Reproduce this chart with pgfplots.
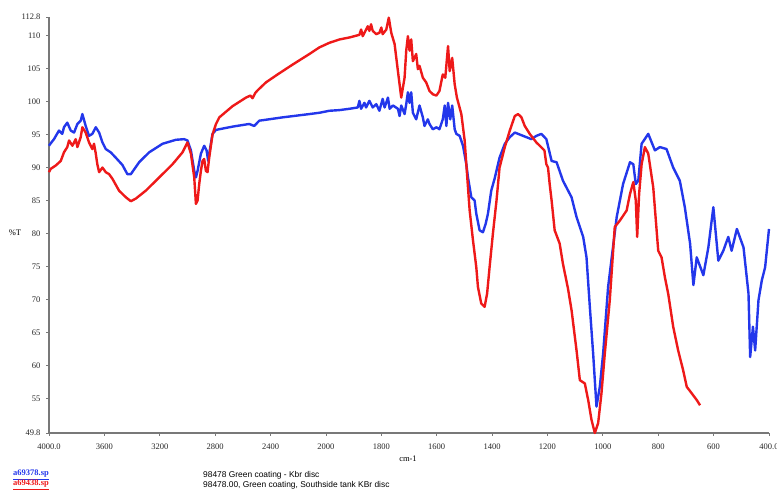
\documentclass[border=0pt]{standalone}
\usepackage{fontspec}
\setmainfont{Liberation Serif}
\newfontfamily\sansf{Liberation Sans}
\usepackage{pgfplots}
\usepackage{pgfplotstable}
\pgfplotsset{compat=1.18}
\definecolor{irblue}{RGB}{35,55,235}
\definecolor{irred}{RGB}{238,25,25}
\definecolor{axgray}{RGB}{120,120,120}

\pgfplotstableread{
wn v
4000 93.3
3990 93.6
3964 94.3
3928 95.6
3904 95.1
3892 96.1
3868 96.8
3843 95.6
3819 95.3
3795 96.6
3771 97.1
3759 98.1
3735 96.3
3711 94.8
3687 95.1
3662 96.1
3638 95.3
3614 93.8
3590 92.8
3554 92.3
3518 91.5
3470 90.4
3434 89.0
3409 89.0
3349 90.8
3277 92.3
3180 93.6
3084 94.2
3024 94.3
3000 94.1
2975 92.6
2951 89.5
2939 88.5
2927 89.5
2903 92.1
2879 93.3
2862 92.6
2850 91.0
2843 92.1
2819 95.1
2794 95.7
2674 96.2
2554 96.6
2518 96.3
2481 97.1
2313 97.6
2119 98.1
2047 98.3
1987 98.6
1951 98.7
1915 98.9
1885 99.1
1879 100.1
1873 98.9
1861 99.8
1855 99.1
1843 100.1
1831 99.1
1818 99.6
1807 98.6
1795 100.4
1788 99.1
1776 100.6
1770 98.9
1758 99.4
1740 98.9
1734 97.8
1728 99.4
1716 98.1
1710 99.6
1704 101.4
1698 99.8
1692 101.4
1686 98.3
1674 97.3
1662 99.4
1650 97.6
1644 96.3
1632 97.3
1626 96.6
1614 95.8
1601 96.1
1590 95.8
1578 97.3
1571 99.4
1565 96.3
1559 99.8
1551 97.3
1544 99.4
1535 95.8
1529 95.1
1517 94.8
1505 93.3
1493 90.5
1487 88.5
1475 85.5
1463 85.0
1457 83.0
1445 80.5
1433 80.2
1423 81.5
1415 83.0
1403 86.5
1391 88.3
1373 91.5
1354 93.6
1336 94.6
1318 95.3
1288 94.8
1258 94.3
1240 94.8
1222 95.1
1204 94.3
1185 91.0
1167 90.8
1144 88.0
1113 85.5
1095 82.5
1071 79.5
1059 76.4
1047 68.9
1035 61.8
1023 53.8
1011 56.8
999 61.8
981 71.9
950 82.5
927 87.5
902 90.8
890 90.5
881 87.5
872 88.0
860 93.6
836 95.1
812 92.6
794 93.1
770 92.8
746 90.0
722 88.0
704 84.0
685 78.5
673 72.2
661 76.4
637 73.7
619 77.9
601 84.0
583 75.9
565 77.4
547 79.5
535 77.4
516 80.7
492 77.9
474 70.9
468 61.3
458 65.9
450 62.3
438 69.9
426 72.9
414 74.9
400 80.7
}\bluedata

\pgfplotstableread{
wn v
4000 89.3
3988 89.8
3952 90.3
3915 91.0
3892 92.3
3868 93.1
3855 94.1
3831 93.3
3807 94.3
3795 93.1
3771 94.6
3759 96.1
3735 95.3
3711 93.8
3687 92.8
3675 93.6
3662 92.1
3651 90.5
3638 89.3
3614 90.0
3590 89.3
3566 89.0
3542 88.3
3494 86.5
3445 85.5
3409 84.9
3373 85.3
3301 86.5
3204 88.5
3108 90.5
3036 92.3
3000 93.8
2975 92.1
2951 88.5
2939 84.5
2927 85.0
2915 87.5
2903 89.5
2891 91.0
2879 91.3
2867 89.5
2855 89.3
2843 91.5
2819 95.0
2794 96.6
2770 97.6
2674 99.3
2577 100.6
2545 100.9
2530 100.5
2510 101.3
2493 101.7
2433 102.9
2349 104.1
2240 105.6
2119 107.2
2047 108.2
1987 108.9
1951 109.4
1915 109.7
1879 110.1
1873 110.9
1867 109.9
1849 111.4
1843 110.7
1837 111.7
1831 110.7
1818 110.2
1807 110.4
1800 111.2
1795 110.2
1782 110.9
1773 112.7
1764 110.4
1752 108.7
1740 104.6
1728 100.6
1716 103.6
1710 107.7
1704 109.9
1698 107.7
1692 109.4
1686 106.1
1674 107.2
1668 104.9
1662 105.4
1650 103.6
1638 102.9
1626 101.6
1614 101.1
1601 100.9
1590 101.6
1578 104.1
1569 103.6
1559 108.4
1553 104.6
1544 106.6
1535 102.6
1527 100.6
1511 98.1
1499 94.1
1493 90.5
1487 87.0
1481 83.5
1469 79.0
1457 74.9
1451 71.9
1439 69.4
1427 68.9
1418 70.9
1409 74.9
1397 80.0
1384 85.0
1373 90.0
1354 93.1
1336 95.6
1318 97.8
1306 98.1
1294 97.6
1282 96.3
1264 95.1
1240 93.8
1211 92.6
1204 90.5
1198 90.0
1192 87.5
1185 85.0
1174 80.5
1156 78.5
1144 75.4
1126 71.7
1113 68.4
1095 62.3
1083 57.8
1065 57.3
1053 54.8
1041 51.8
1029 49.8
1017 51.3
1005 55.8
993 61.8
975 69.9
957 81.0
938 82.0
914 83.5
902 86.0
890 87.8
881 85.0
876 79.5
869 86.0
860 90.5
848 93.1
836 92.1
818 87.0
800 77.4
788 76.4
776 73.4
764 70.9
746 65.9
728 62.3
710 59.3
697 56.8
679 55.8
661 54.8
649 54.0
}\reddata

\begin{document}
\begin{tikzpicture}[x=1pt,y=1pt]
\path[use as bounding box] (0,0) rectangle (777,492);
\begin{axis}[
  at={(49pt,59pt)}, anchor=south west,
  scale only axis, width=720pt, height=416pt,
  xmin=0, xmax=13, ymin=49.8, ymax=112.8,
  axis lines*=left,
  axis line style={axgray, line width=1.2pt},
  clip=false,
  xtick={0,1,2,3,4,5,6,7,8,9,10,11,12,13},
  xticklabels={4000.0,3600,3200,2800,2400,2000,1800,1600,1400,1200,1000,800,600,400.0},
  ytick={49.8,55,60,65,70,75,80,85,90,95,100,105,110,112.8},
  yticklabels={49.8,55,60,65,70,75,80,85,90,95,100,105,110,112.8},
  tick align=outside, major tick length=3pt,
  tick style={axgray, line width=0.8pt},
  tick label style={font=\fontsize{8.5}{9}\selectfont, text=black!85},
  xticklabel style={yshift=-4pt},
  yticklabel style={xshift=-2pt},
]
\addplot[irblue, line width=2.4pt, line join=round] table[x expr={ifthenelse(\thisrow{wn}>=2000,(4000-\thisrow{wn})/400,5+(2000-\thisrow{wn})/200)}, y=v] {\bluedata};
\addplot[irred, line width=2.4pt, line join=round] table[x expr={ifthenelse(\thisrow{wn}>=2000,(4000-\thisrow{wn})/400,5+(2000-\thisrow{wn})/200)}, y=v] {\reddata};
\end{axis}
\node[font=\fontsize{8.5}{9}\selectfont] at (15,259) {\%T};
\node[font=\fontsize{8.5}{9}\selectfont] at (408,33) {cm-1};
\node[anchor=west, font=\fontsize{8.5}{9}\selectfont\bfseries, text=irblue, inner sep=0pt] at (13,17) {\underline{a69378.sp}};
\node[anchor=west, font=\fontsize{8.5}{9}\selectfont\bfseries, text=irred, inner sep=0pt] at (13,7) {\underline{a69438.sp}};
\node[anchor=west, font=\sansf\fontsize{8.4}{9}\selectfont, inner sep=0pt] at (203,17) {98478 Green coating - Kbr disc};
\node[anchor=west, font=\sansf\fontsize{8.4}{9}\selectfont, inner sep=0pt] at (203,7) {98478.00, Green coating, Southside tank KBr disc};
\end{tikzpicture}
\end{document}
